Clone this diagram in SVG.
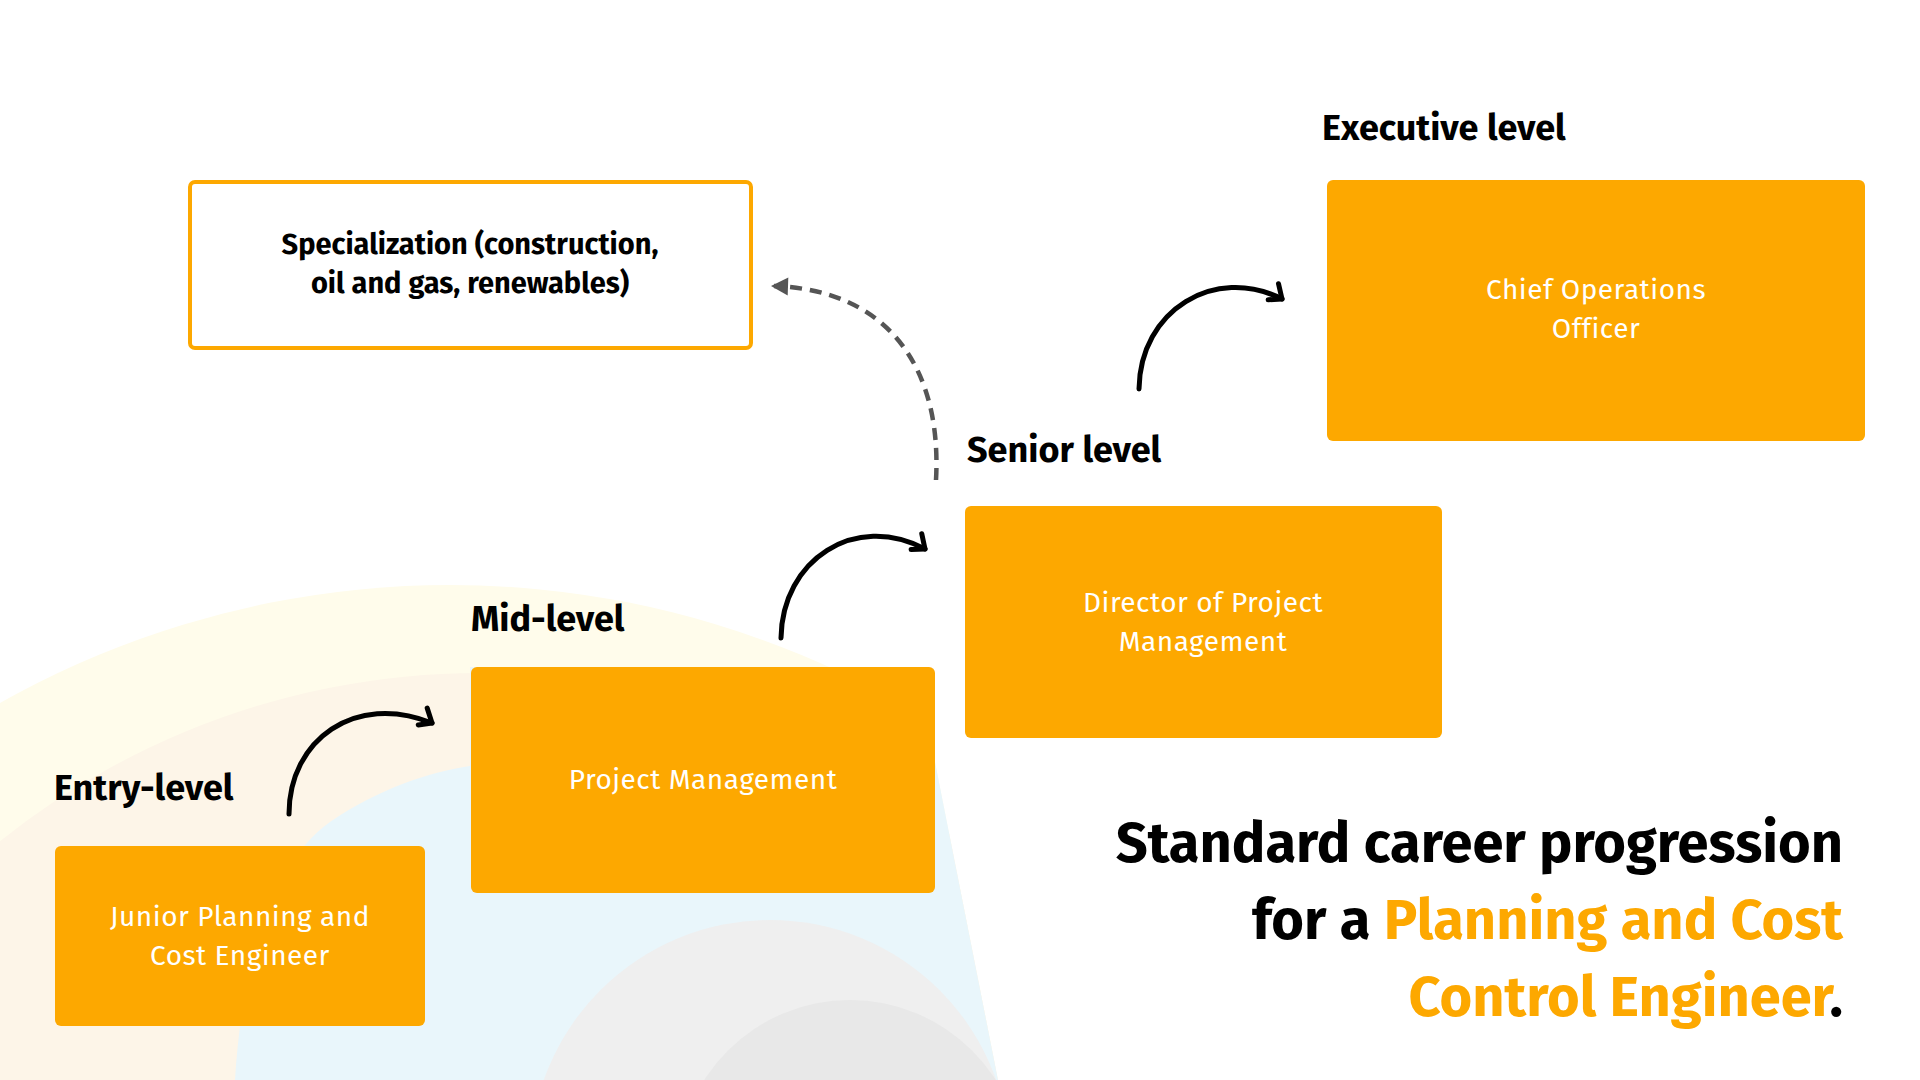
<svg xmlns="http://www.w3.org/2000/svg" width="1920" height="1080" viewBox="0 0 1920 1080">
  <style>
    .box { fill: #FDA800; }
    .wtxt { font-family: "Fira Sans", Lato, "Noto Sans", sans-serif; font-size: 28px; fill: #ffffff; text-anchor: middle; letter-spacing: 0.5px; }
    .btxt { font-family: "Fira Sans", Lato, "Noto Sans", sans-serif; font-size: 29px; font-weight: 700; fill: #000000; text-anchor: middle; }
    .lbl { font-family: "Fira Sans", Lato, "Noto Sans", sans-serif; font-size: 36px; font-weight: 700; fill: #000000; }
    .title { font-family: "Fira Sans", Lato, "Noto Sans", sans-serif; font-size: 56px; font-weight: 700; fill: #000000; text-anchor: end; }
    .hl { fill: #FDA800; }
    .arr { fill: none; stroke: #000000; stroke-width: 5; stroke-linecap: round; }
    .dash { fill: none; stroke: #555555; stroke-width: 4.5; stroke-dasharray: 12 8; }
  </style>
  <defs>
    <clipPath id="bgclip">
      <polygon points="0,0 784,0 998,1080 0,1080"/>
    </clipPath>
    <marker id="open" markerUnits="userSpaceOnUse" markerWidth="40" markerHeight="40" refX="20" refY="20" orient="auto">
      <path d="M10,8 L20,20 L8,27" fill="none" stroke="#000" stroke-width="5" stroke-linecap="round" stroke-linejoin="round"/>
    </marker>
    <marker id="solid" markerUnits="userSpaceOnUse" markerWidth="30" markerHeight="30" refX="15" refY="15" orient="auto">
      <path d="M1,6 L18,15 L1,24 Z" fill="#555555"/>
    </marker>
  </defs>
  <rect width="1920" height="1080" fill="#ffffff"/>

  <g id="background" clip-path="url(#bgclip)">
    <circle cx="450" cy="1502" r="917" fill="#FFFCEB"/>
    <circle cx="480" cy="1442" r="769" fill="#FDF5E8"/>
    <path d="M235,1080 C242,960 275,860 330,822 C380,788 430,772 470,766 L470,667 L1000,667 L1000,1080 Z" fill="#E9F6FB"/>
    <circle cx="770" cy="1160" r="240" fill="#EFEFEF"/>
    <circle cx="850" cy="1173" r="173" fill="#E8E8E8"/>
  </g>

  <g id="connectors">
    <path class="arr" d="M289,814 C289,740 355,692 432,723" marker-end="url(#open)"/>
    <path class="arr" d="M781,638 C782,560 855,512 925,549" marker-end="url(#open)"/>
    <path class="arr" d="M1139,389 C1140,310 1215,265 1282,299" marker-end="url(#open)"/>
    <path class="dash" d="M936,480 C942,370 890,290 774,286" marker-end="url(#solid)"/>
  </g>

  <g id="node-specialization">
    <rect x="190" y="182" width="561" height="166" rx="5" fill="#ffffff" stroke="#FDA800" stroke-width="4"/>
    <text class="btxt" x="470" y="254">Specialization (construction,</text>
    <text class="btxt" x="470" y="293">oil and gas, renewables)</text>
  </g>

  <g id="node-executive">
    <text class="lbl" x="1322" y="140">Executive level</text>
    <rect class="box" x="1327" y="180" width="538" height="261" rx="6"/>
    <text class="wtxt" x="1596" y="299">Chief Operations</text>
    <text class="wtxt" x="1596" y="338">Officer</text>
  </g>

  <g id="node-senior">
    <text class="lbl" x="967" y="462">Senior level</text>
    <rect class="box" x="965" y="506" width="477" height="232" rx="6"/>
    <text class="wtxt" x="1203" y="612">Director of Project</text>
    <text class="wtxt" x="1203" y="651">Management</text>
  </g>

  <g id="node-mid">
    <text class="lbl" x="471" y="631">Mid-level</text>
    <rect class="box" x="471" y="667" width="464" height="226" rx="6"/>
    <text class="wtxt" x="703" y="789">Project Management</text>
  </g>

  <g id="node-entry">
    <text class="lbl" x="54" y="800">Entry-level</text>
    <rect class="box" x="55" y="846" width="370" height="180" rx="6"/>
    <text class="wtxt" x="240" y="926">Junior Planning and</text>
    <text class="wtxt" x="240" y="965">Cost Engineer</text>
  </g>

  <g id="title">
    <text class="title" x="1843" y="862">Standard career progression</text>
    <text class="title" x="1843" y="939">for a <tspan class="hl">Planning and Cost</tspan></text>
    <text class="title" x="1843" y="1016"><tspan class="hl">Control Engineer</tspan>.</text>
  </g>
</svg>
